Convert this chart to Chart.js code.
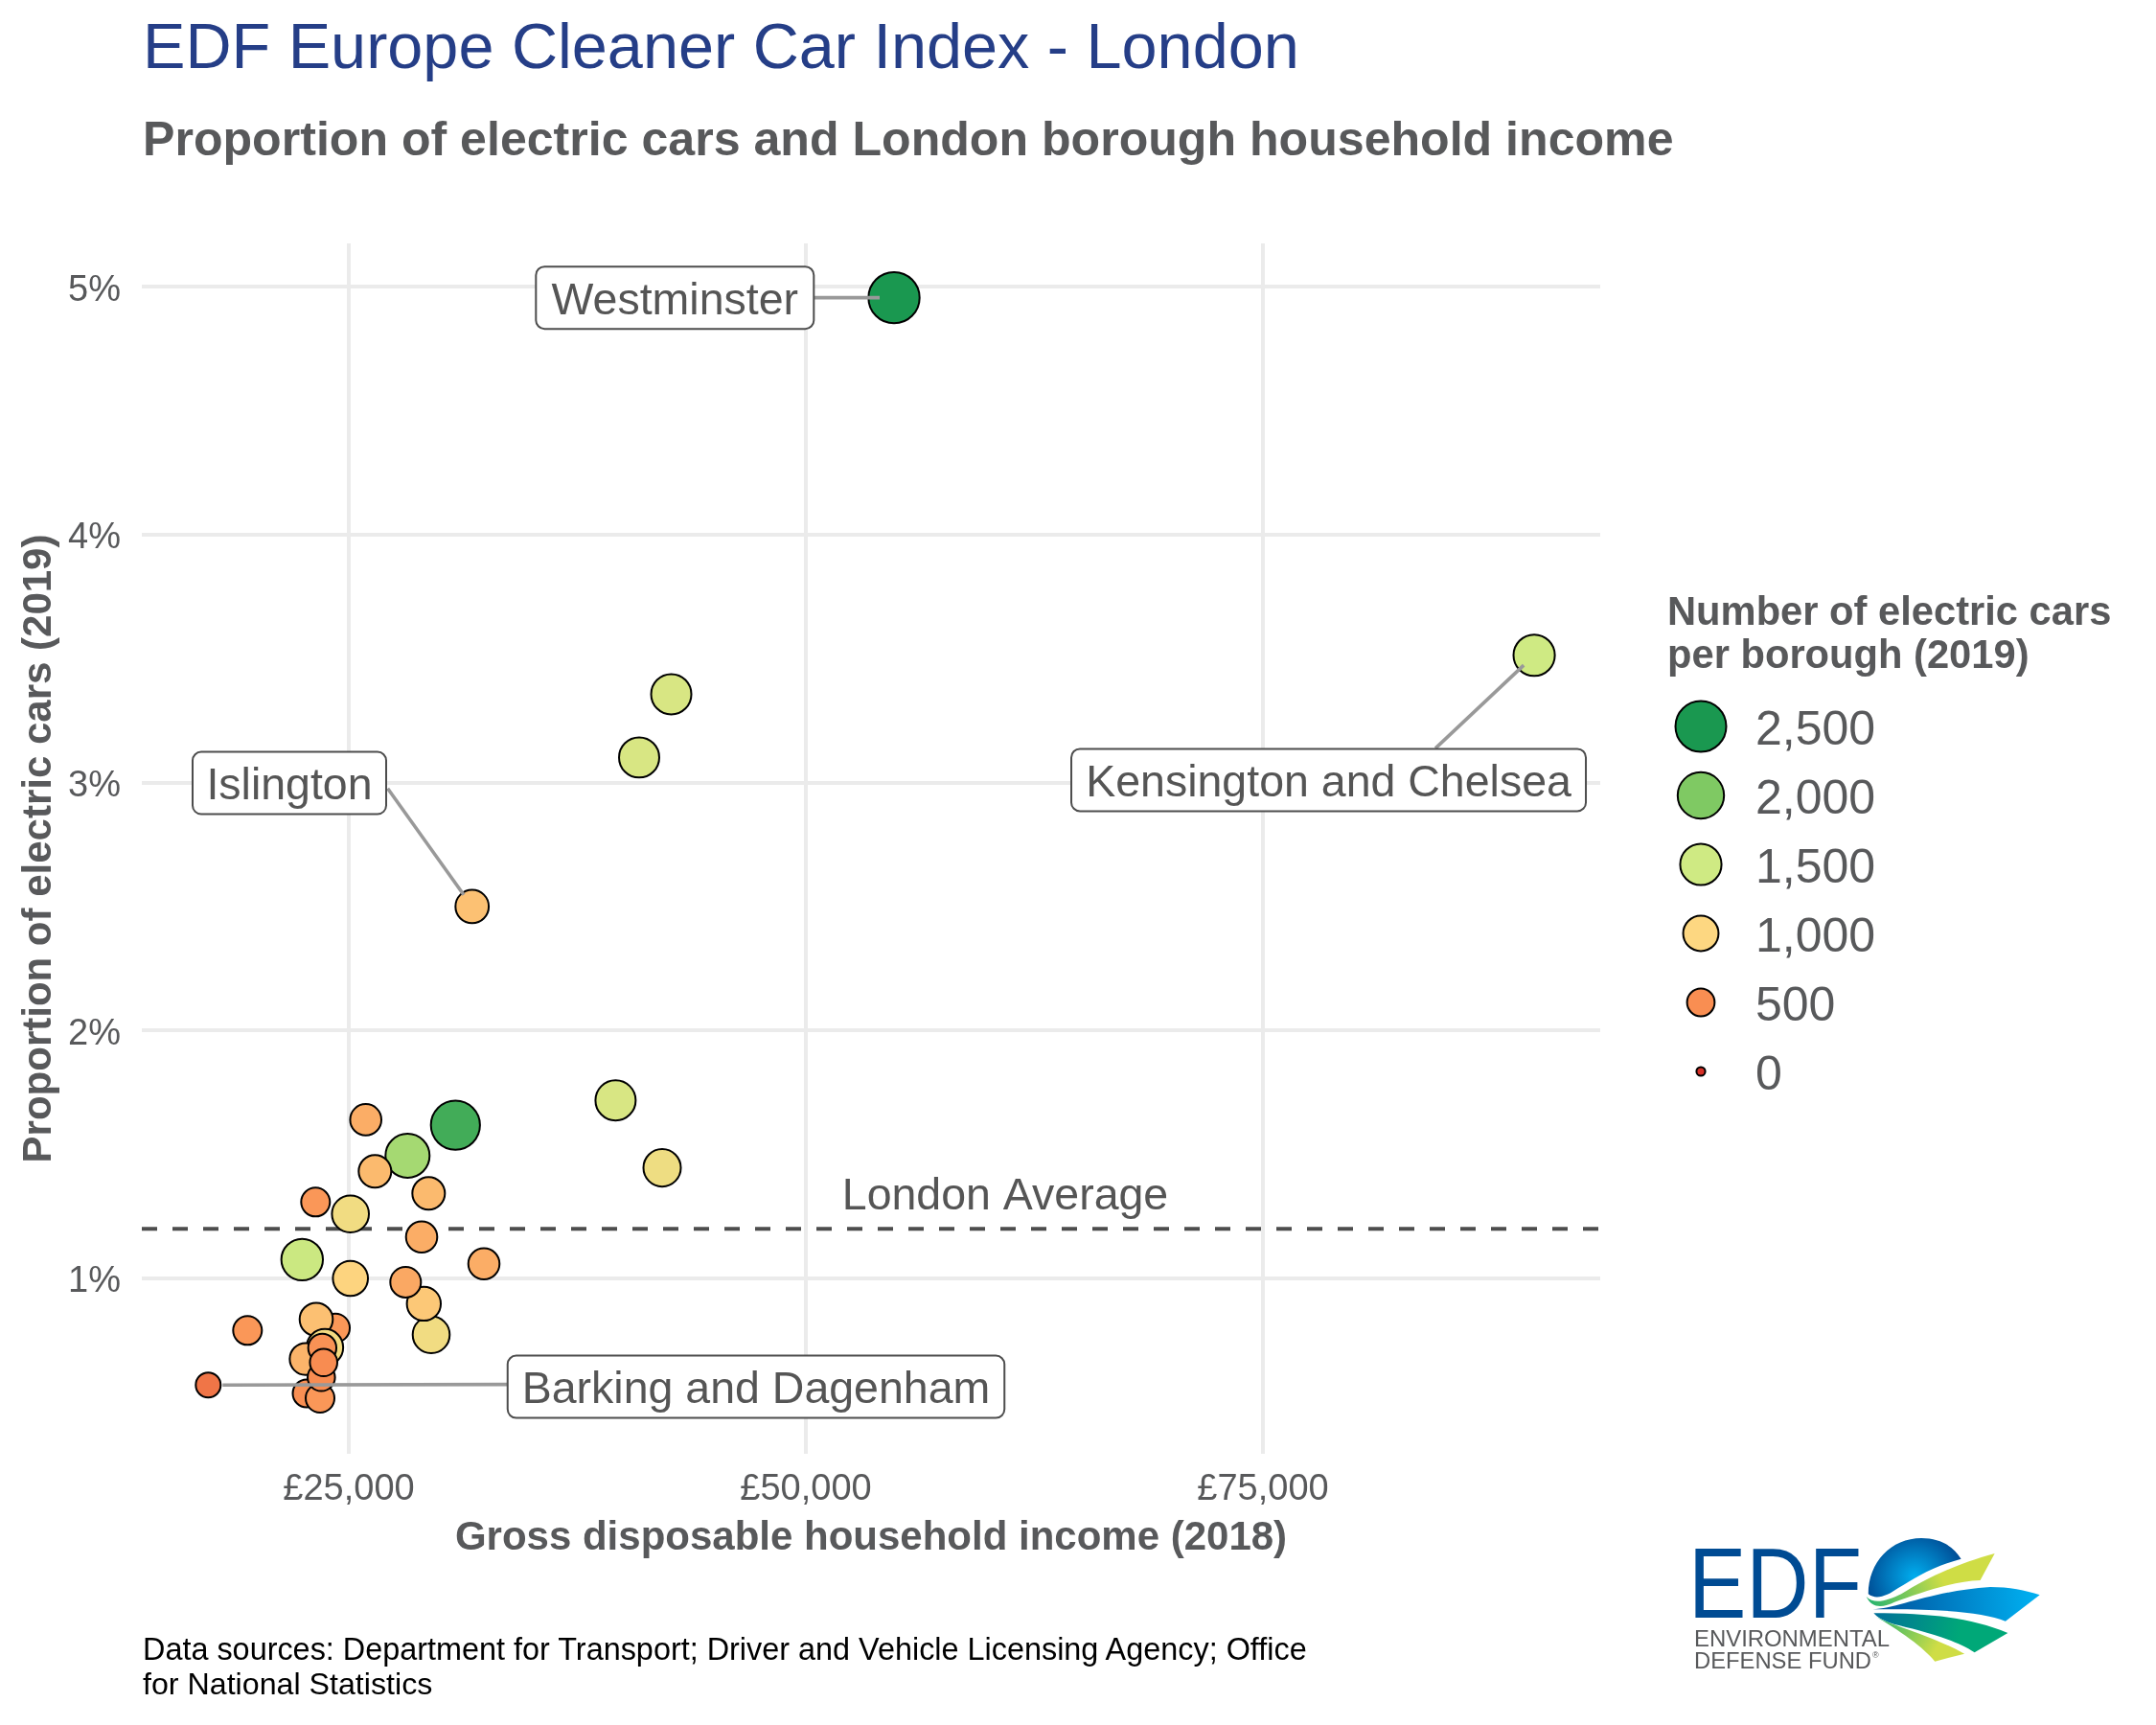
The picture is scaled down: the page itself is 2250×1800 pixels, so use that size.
<!DOCTYPE html>
<html>
<head>
<meta charset="utf-8">
<title>EDF Europe Cleaner Car Index - London</title>
<script src="https://cdn.jsdelivr.net/npm/chart.js@4/dist/chart.umd.min.js"></script>
<style>
  html, body { margin: 0; padding: 0; background: #fff; }
  #wrap { position: relative; width: 2250px; height: 1800px; }
  canvas { position: absolute; left: 0; top: 0; }
  svg { position: absolute; left: 0; top: 0; pointer-events: none; }
  text { font-family: "Liberation Sans", Arial, sans-serif; }
</style>
</head>
<body>
<div id="wrap">
  <canvas id="chart" width="2250" height="1800"></canvas>
  <svg width="2250" height="1800" viewBox="0 0 2250 1800">
    <defs>
      <radialGradient id="globe" gradientUnits="userSpaceOnUse" cx="850" cy="195" r="150">
        <stop offset="0" stop-color="#00aeef"/><stop offset="1" stop-color="#004b93"/>
      </radialGradient>
      <linearGradient id="limeTop" gradientUnits="userSpaceOnUse" x1="720" y1="270" x2="1000" y2="170">
        <stop offset="0" stop-color="#2cb56e"/><stop offset="0.75" stop-color="#cfdd45"/>
      </linearGradient>
      <linearGradient id="blueBand" gradientUnits="userSpaceOnUse" x1="730" y1="295" x2="1200" y2="260">
        <stop offset="0" stop-color="#00519c"/><stop offset="1" stop-color="#00aeef"/>
      </linearGradient>
      <linearGradient id="greenBand" gradientUnits="userSpaceOnUse" x1="730" y1="315" x2="1050" y2="380">
        <stop offset="0" stop-color="#00709a"/><stop offset="0.8" stop-color="#00a878"/>
      </linearGradient>
      <linearGradient id="limeLow" gradientUnits="userSpaceOnUse" x1="740" y1="325" x2="960" y2="440">
        <stop offset="0" stop-color="#2cb56e"/><stop offset="0.8" stop-color="#cfdd45"/>
      </linearGradient>
    </defs>

    <text x="149" y="71" font-size="66.6" fill="#253e87">EDF Europe Cleaner Car Index - London</text>
    <text x="149" y="162" font-size="50.1" font-weight="bold" fill="#58595b">Proportion of electric cars and London borough household income</text>
    <text x="149" y="1732" font-size="32.4" fill="#000">Data sources: Department for Transport; Driver and Vehicle Licensing Agency; Office</text>
    <text x="149" y="1768" font-size="32.2" fill="#000">for National Statistics</text>

    <!-- logo -->
    <text x="1762" y="1688" font-size="103" fill="#004b93" textLength="181" lengthAdjust="spacingAndGlyphs">EDF</text>
    <text x="1768" y="1718" font-size="24.5" fill="#58595b" textLength="204" lengthAdjust="spacingAndGlyphs">ENVIRONMENTAL</text>
    <text x="1768" y="1741" font-size="24.5" fill="#58595b" textLength="185" lengthAdjust="spacingAndGlyphs">DEFENSE FUND</text>
    <text x="1954" y="1730" font-size="9" fill="#58595b">®</text>
    <g transform="translate(1700 1580) scale(0.3508 0.3333)">
      <path fill="url(#globe)" d="M712 250C712 150 780 75 870 75C925 75 965 100 988 140C900 165 850 200 800 232C770 255 735 270 712 250Z"/>
      <path fill="url(#limeTop)" d="M706 258C730 285 770 270 810 250C880 205 960 160 1088 123L1045 207C960 210 860 250 790 275C760 290 725 300 706 258Z"/>
      <path fill="url(#blueBand)" d="M725 298C800 295 900 240 1075 228C1130 228 1180 238 1222 253L1120 335C1050 305 900 295 725 298Z"/>
      <path fill="url(#greenBand)" d="M728 310C900 310 1020 325 1127 372L1028 433C970 390 850 360 790 345C760 335 740 325 728 310Z"/>
      <path fill="url(#limeLow)" d="M730 318C780 350 880 370 998 437L910 461C880 420 800 360 730 318Z"/>
    </g>
  </svg>
</div>

<script>
// values, back to front
const income = [29507, 29104, 28108, 28213, 26431, 30833, 25928, 29366, 23181, 25089, 28983,
  22448, 32390, 25089, 19460, 24266, 23218, 23690, 22642, 23550, 22694, 23428, 23496, 23622,
  17311, 31745, 42636, 40880, 39591, 42138, 54821, 89834];
const share = [0.773, 0.898, 0.985, 1.495, 1.432, 1.618, 1.640, 1.343, 1.308, 1.260, 1.167,
  1.076, 1.059, 1.000, 0.790, 0.800, 0.835, 0.722, 0.675, 0.720, 0.536, 0.517, 0.601, 0.661,
  0.570, 2.500, 3.356, 3.101, 1.718, 1.446, 4.955, 3.513];
const cars = [1126, 894, 677, 1765, 801, 2300, 713, 801, 564, 1126, 713,
  1524, 713, 978, 564, 564, 841, 1100, 760, 530, 510, 564, 490, 490,
  368, 850, 1400, 1400, 1400, 1160, 2540, 1500];

const xTicks = [25000, 50000, 75000];
const yTicks = [1, 2, 3, 4, 5];
const londonAverage = 1.2;

const legendBreaks = [2500, 2000, 1500, 1000, 500, 0];
const legendTitle = ["Number of electric cars", "per borough (2019)"];

const calloutNames = ["Westminster", "Kensington and Chelsea", "Islington", "Barking and Dagenham"];
const calloutPoints = [30, 31, 25, 24];
const calloutX = [42835, 78590, 21750, 47274];
const calloutY = [4.955, 3.01, 2.998, 0.563];
const calloutAnchors = [[145, 0], [111.5, -33], [102.6, 5.7], [-259, -2.5]];
const calloutWidths = [290, 537, 202, 518.5];

const colorStops = [
  [0, [215, 48, 39]], [500, [249, 142, 82]], [1000, [253, 215, 129]],
  [1500, [207, 234, 131]], [2000, [127, 201, 99]], [2500, [26, 152, 80]]
];

function sizeFor(n) {
  return 5.6 + 21.9 * Math.sqrt(n / 2500);
}

function colorFor(n) {
  const v = Math.min(n, 2500);
  for (let i = 1; i < colorStops.length; i++) {
    if (v <= colorStops[i][0]) {
      const [a, ca] = colorStops[i - 1];
      const [b, cb] = colorStops[i];
      const t = (v - a) / (b - a);
      return `rgb(${ca.map((c, k) => Math.round(c + (cb[k] - c) * t)).join(",")})`;
    }
  }
  return "rgb(26,152,80)";
}

// Callout boxes, leader lines and the "London Average" note
const callouts = {
  id: "callouts",
  afterDatasetsDraw(chart) {
    const { ctx, scales: { x, y } } = chart;
    ctx.save();
    ctx.font = '46.5px "Liberation Sans"';
    ctx.fillStyle = "#555555";
    ctx.textAlign = "center";
    ctx.textBaseline = "alphabetic";
    ctx.fillText("London Average", x.getPixelForValue(60900), y.getPixelForValue(londonAverage) - 20);

    calloutNames.forEach((name, i) => {
      const p = calloutPoints[i];
      const cx = x.getPixelForValue(calloutX[i]);
      const cy = y.getPixelForValue(calloutY[i]);
      const px = x.getPixelForValue(income[p]);
      const py = y.getPixelForValue(share[p]);
      const sx = cx + calloutAnchors[i][0];
      const sy = cy + calloutAnchors[i][1];
      const len = Math.hypot(px - sx, py - sy);
      ctx.strokeStyle = "#999999";
      ctx.lineWidth = 3.6;
      ctx.beginPath();
      ctx.moveTo(sx, sy);
      ctx.lineTo(px - (px - sx) / len * 15, py - (py - sy) / len * 15);
      ctx.stroke();

      const w = calloutWidths[i];
      ctx.beginPath();
      ctx.roundRect(cx - w / 2, cy - 32.5, w, 65, 9);
      ctx.fillStyle = "#ffffff";
      ctx.fill();
      ctx.strokeStyle = "#4d4d4d";
      ctx.lineWidth = 2;
      ctx.stroke();
      ctx.fillStyle = "#555555";
      ctx.fillText(name, cx, cy + 17);
    });
    ctx.restore();
  }
};

// Size and colour legend
const sizeLegend = {
  id: "sizeLegend",
  afterDraw(chart) {
    const { ctx } = chart;
    ctx.save();
    ctx.fillStyle = "#58595b";
    ctx.textAlign = "left";
    ctx.textBaseline = "alphabetic";
    ctx.font = 'bold 41.7px "Liberation Sans"';
    legendTitle.forEach((line, i) => ctx.fillText(line, 1740, 652 + i * 45));
    ctx.font = '50px "Liberation Sans"';
    legendBreaks.forEach((n, i) => {
      const ky = 758 + i * 72;
      ctx.beginPath();
      ctx.arc(1775, ky, sizeFor(n) - 1, 0, Math.PI * 2);
      ctx.fillStyle = colorFor(n);
      ctx.fill();
      ctx.strokeStyle = "#000000";
      ctx.lineWidth = 2;
      ctx.stroke();
      ctx.fillStyle = "#58595b";
      ctx.fillText(n.toLocaleString("en-GB"), 1832, ky + 19);
    });
    ctx.restore();
  }
};

const xMin = 13679;
const xMax = 93447;

new Chart(document.getElementById("chart"), {
  type: "scatter",
  data: {
    datasets: [
      {
        data: income.map((v, i) => ({ x: v, y: share[i] })),
        order: 1,
        pointRadius: ctx => sizeFor(cars[ctx.dataIndex]) - 1,
        pointBackgroundColor: ctx => colorFor(cars[ctx.dataIndex]),
        pointBorderColor: "#000000",
        pointBorderWidth: 2
      },
      {
        data: [{ x: xMin, y: londonAverage }, { x: xMax, y: londonAverage }],
        order: 2,
        showLine: true,
        pointRadius: 0,
        borderColor: "#4d4d4d",
        borderWidth: 4,
        borderDash: [16, 16]
      }
    ]
  },
  options: {
    responsive: false,
    devicePixelRatio: 1,
    animation: false,
    events: [],
    layout: { padding: { top: 254, right: 580, left: 0, bottom: 0 } },
    plugins: { legend: { display: false }, tooltip: { enabled: false } },
    scales: {
      x: {
        type: "linear",
        min: xMin,
        max: xMax,
        afterBuildTicks: s => { s.ticks = xTicks.map(value => ({ value })); },
        afterFit: s => { s.height = 283; },
        grid: { color: "#ebebeb", lineWidth: 4, drawTicks: false },
        border: { display: false },
        ticks: {
          padding: 15,
          maxRotation: 0,
          color: "#58595b",
          font: { family: "Liberation Sans", size: 38 },
          callback: v => "£" + v.toLocaleString("en-GB")
        },
        title: {
          display: true,
          text: "Gross disposable household income (2018)",
          color: "#58595b",
          font: { family: "Liberation Sans", size: 42, weight: "bold" },
          padding: { top: 0, bottom: 169 }
        }
      },
      y: {
        type: "linear",
        min: 0.2928,
        max: 5.174,
        afterBuildTicks: s => { s.ticks = yTicks.map(value => ({ value })); },
        afterFit: s => { s.width = 148; },
        grid: { color: "#ebebeb", lineWidth: 4, drawTicks: false },
        border: { display: false },
        ticks: {
          padding: 22,
          color: "#58595b",
          // blank first line with an 8px line height nudges the label 4px down
          font: { family: "Liberation Sans", size: 38, lineHeight: "8px" },
          callback: v => ["", v + "%"]
        },
        title: {
          display: true,
          text: "Proportion of electric cars (2019)",
          color: "#58595b",
          font: { family: "Liberation Sans", size: 42, weight: "bold" },
          padding: { top: 16, bottom: 0 }
        }
      }
    }
  },
  plugins: [callouts, sizeLegend]
});
</script>
</body>
</html>
